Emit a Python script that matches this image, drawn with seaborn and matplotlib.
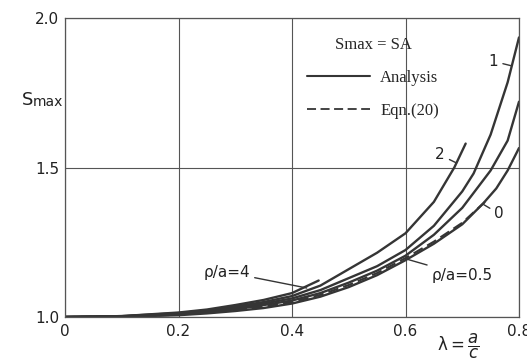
import matplotlib
matplotlib.use("Agg")
import matplotlib.pyplot as plt
import seaborn as sns
from matplotlib.lines import Line2D

# curve data (lambda = a/c, Smax)
lam_r0 = [0, 0.1, 0.2, 0.25, 0.3, 0.35, 0.4, 0.45, 0.5, 0.55, 0.6, 0.65, 0.7, 0.737, 0.76, 0.78, 0.8]
s_r0 = [1.0, 1.001, 1.006, 1.012, 1.02, 1.03, 1.045, 1.068, 1.10, 1.14, 1.19, 1.245, 1.31, 1.38, 1.43, 1.49, 1.565]

lam_r05 = [0, 0.1, 0.2, 0.25, 0.3, 0.35, 0.4, 0.45, 0.5, 0.55, 0.6, 0.65, 0.7, 0.75, 0.78, 0.8]
s_r05 = [1.0, 1.002, 1.009, 1.016, 1.026, 1.04, 1.055, 1.08, 1.115, 1.155, 1.205, 1.275, 1.365, 1.49, 1.59, 1.72]

lam_r1 = [0, 0.1, 0.2, 0.25, 0.3, 0.35, 0.4, 0.45, 0.5, 0.55, 0.6, 0.65, 0.7, 0.72, 0.75, 0.78, 0.8]
s_r1 = [1.0, 1.002, 1.011, 1.019, 1.03, 1.045, 1.062, 1.09, 1.13, 1.17, 1.224, 1.305, 1.42, 1.48, 1.61, 1.785, 1.935]

lam_r2 = [0, 0.1, 0.2, 0.25, 0.3, 0.35, 0.4, 0.45, 0.5, 0.55, 0.6, 0.65, 0.686, 0.706]
s_r2 = [1.0, 1.003, 1.013, 1.022, 1.035, 1.05, 1.07, 1.105, 1.16, 1.215, 1.28, 1.385, 1.5, 1.58]

lam_r4 = [0, 0.1, 0.2, 0.25, 0.3, 0.35, 0.4, 0.447]
s_r4 = [1.0, 1.003, 1.015, 1.025, 1.04, 1.057, 1.08, 1.122]

lam_eq = [0, 0.1, 0.2, 0.25, 0.3, 0.35, 0.4, 0.45, 0.5, 0.55, 0.6, 0.65, 0.7, 0.74]
s_eq = [1.0, 1.0015, 1.0075, 1.014, 1.023, 1.035, 1.05, 1.074, 1.107, 1.147, 1.197, 1.252, 1.315, 1.385]

x_ticks = [0, 0.2, 0.4, 0.6, 0.8]
x_labels = ["0", "0.2", "0.4", "0.6", "0.8"]
y_ticks = [1.0, 1.5, 2.0]
y_labels = ["1.0", "1.5", "2.0"]

sns.set_style("white")
plt.rcParams["font.family"] = ["DejaVu Sans"]

ink = "#353535"
fig = plt.figure(figsize=(5.27, 3.61), dpi=100)
ax = fig.add_axes([65 / 527, 1 - 317 / 361, 454 / 527, 299 / 361])

# analysis curves
for lam, s in [(lam_r0, s_r0), (lam_r05, s_r05), (lam_r1, s_r1), (lam_r2, s_r2), (lam_r4, s_r4)]:
    sns.lineplot(x=lam, y=s, ax=ax, color=ink, lw=1.7, estimator=None, sort=False)

# Eqn.(20)
sns.lineplot(x=lam_eq, y=s_eq, ax=ax, color=ink, lw=1.5, estimator=None, sort=False,
             dashes=False, linestyle=(0, (5, 2.5)))

ax.set_xlim(0, 0.8)
ax.set_ylim(1.0, 2.0)
ax.set_xticks(x_ticks)
ax.set_xticklabels(x_labels)
ax.set_yticks(y_ticks)
ax.set_yticklabels(y_labels)
ax.tick_params(length=0, labelsize=11, colors="#222222")
ax.tick_params(axis="x", pad=5)
ax.tick_params(axis="y", pad=4)
ax.grid(True, color="#555555", lw=0.8)
for sp in ax.spines.values():
    sp.set_color("#555555")
    sp.set_linewidth(0.9)
ax.set_xlabel("")
ax.set_ylabel("")

# curve labels
lab = dict(fontsize=11, color="#222222", ha="center", va="center")
arr = dict(arrowstyle="-", color=ink, lw=1.0, shrinkA=1, shrinkB=0)
ax.annotate("1", xy=(0.787, 1.84), xytext=(0.755, 1.855), arrowprops=arr, **lab)
ax.annotate("2", xy=(0.69, 1.515), xytext=(0.661, 1.542), arrowprops=arr, **lab)
ax.annotate("0", xy=(0.736, 1.378), xytext=(0.765, 1.345), arrowprops=arr, **lab)
ax.annotate("ρ/a=4", xy=(0.426, 1.097), xytext=(0.285, 1.15), arrowprops=arr, **lab)
ax.annotate("ρ/a=0.5", xy=(0.605, 1.192), xytext=(0.70, 1.14), arrowprops=arr, **lab)

# legend
handles = [Line2D([], [], color=ink, lw=1.5),
           Line2D([], [], color=ink, lw=1.3, linestyle=(0, (5, 2.5)))]
leg = ax.legend(handles, ["Analysis", "Eqn.(20)"], title="Smax = SA", frameon=False,
                loc="upper left", bbox_to_anchor=(0.5, 0.985), handlelength=3.8,
                handletextpad=0.6, labelspacing=1.0,
                prop={"family": "Liberation Serif", "size": 12})
leg.get_title().set_fontfamily("Liberation Serif")
leg.get_title().set_fontsize(12)

# axis labels
fig.text(22 / 527, 1 - 100 / 361, "S", fontsize=13, color="#222222", va="center")
fig.text(33 / 527, 1 - 102 / 361, "max", fontsize=10, color="#222222", va="center")
fig.text(458 / 527, 1 - 346 / 361, r"$\mathregular{\lambda} = \dfrac{a}{c}$", fontsize=12,
         color="#222222", ha="center", va="center")

fig.savefig("out.png", dpi=100)
